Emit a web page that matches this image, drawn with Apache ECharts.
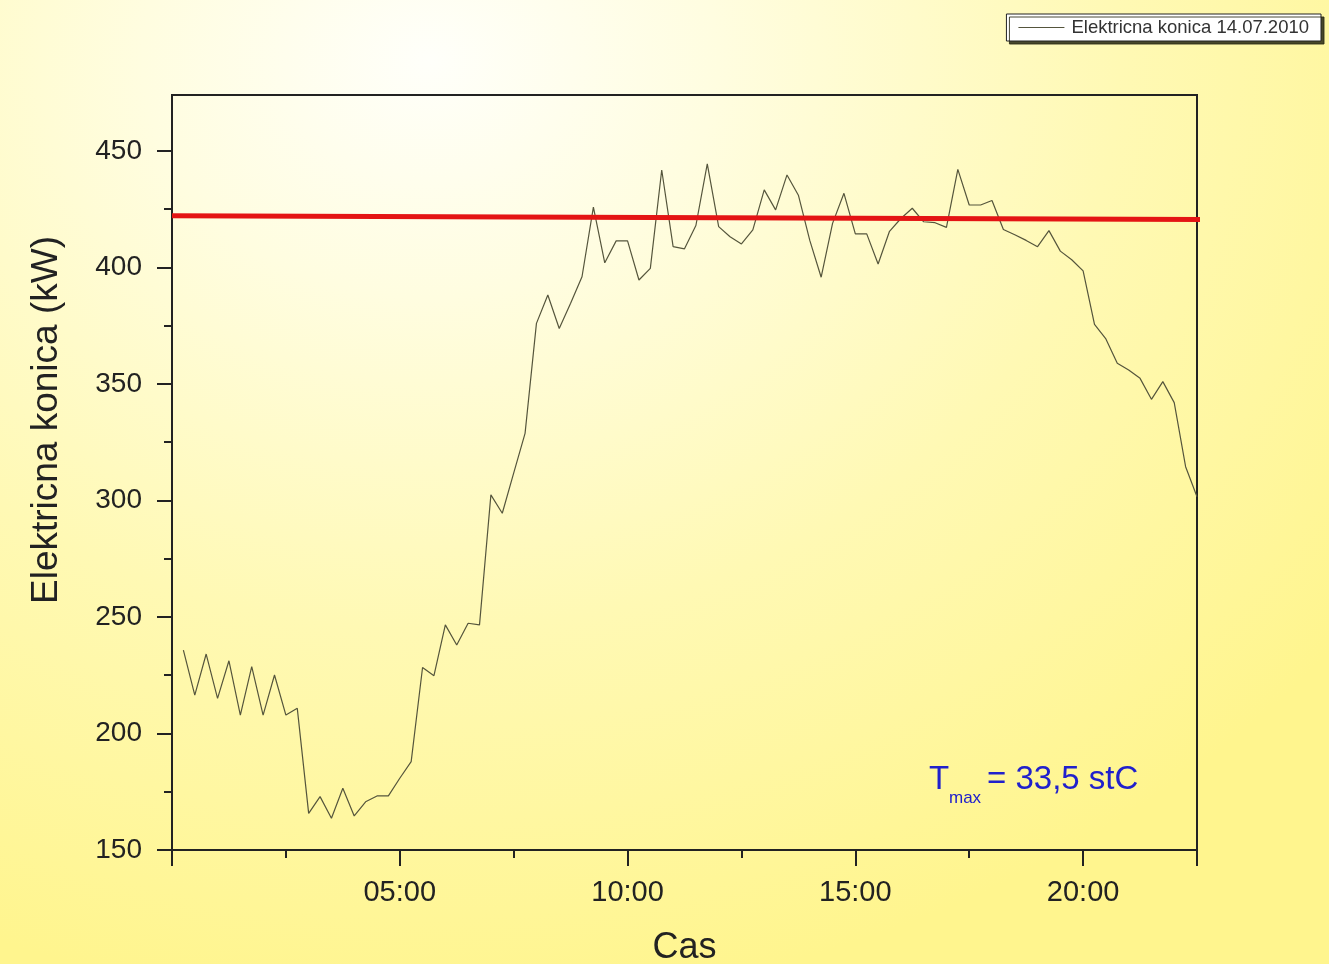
<!DOCTYPE html>
<html><head><meta charset="utf-8">
<script src="https://cdn.jsdelivr.net/npm/echarts@6/dist/echarts.min.js"></script>
<style>
html,body{margin:0;padding:0;width:1329px;height:964px;overflow:hidden;}
body{background: radial-gradient(ellipse 1150px 950px at 430px 60px, #fffffa 0%, #fffde0 25%, #fff9b4 60%, #fff58e 100%);}
#c{width:1329px;height:964px;}
</style></head><body><div id="c"></div>
<script>
const times = ["00:15","00:30","00:45","01:00","01:15","01:30","01:45","02:00","02:15","02:30",
"02:45","03:00","03:15","03:30","03:45","04:00","04:15","04:30","04:45","05:00",
"05:15","05:30","05:45","06:00","06:15","06:30","06:45","07:00","07:15","07:30",
"07:45","08:00","08:15","08:30","08:45","09:00","09:15","09:30","09:45","10:00",
"10:15","10:30","10:45","11:00","11:15","11:30","11:45","12:00","12:15","12:30",
"12:45","13:00","13:15","13:30","13:45","14:00","14:15","14:30","14:45","15:00",
"15:15","15:30","15:45","16:00","16:15","16:30","16:45","17:00","17:15","17:30",
"17:45","18:00","18:15","18:30","18:45","19:00","19:15","19:30","19:45","20:00",
"20:15","20:30","20:45","21:00","21:15","21:30","21:45","22:00","22:15","22:30"];
const power = [235.8,216.5,234.1,215.1,231.2,207.9,228.7,207.9,225.1,207.9,
210.8,165.7,172.9,163.6,176.5,164.6,170.7,173.2,173.2,180.8,
187.9,228.3,224.8,246.6,238.0,247.3,246.6,302.4,294.5,311.7,
328.8,376.0,388.2,373.8,384.6,396.0,425.9,402.0,411.4,411.4,
394.6,399.6,441.8,408.9,408.0,418.0,444.4,417.5,413.2,410.1,
416.1,433.3,424.7,439.7,431.0,411.6,395.8,418.9,431.8,414.4,
414.4,401.5,415.5,421.0,425.4,419.6,419.2,417.2,442.1,426.8,
426.8,428.7,416.3,414.0,411.6,408.9,415.8,407.0,403.3,398.5,
375.6,369.3,358.9,356.0,352.4,343.4,351.0,342.0,314.5,301.6];
const trendTimes = ["00:00","22:41"];
const trendPower = [422.2, 420.6];
const yMajorTicks = [150,200,250,300,350,400,450];
const yMinorTicks = [175,225,275,325,375,425];
const xLabelHours = [5,10,15,20];
const xMajorHours = [0,5,10,15,20,22.5];
const xMinorHours = [2.5,7.5,12.5,17.5];
const seriesName = "Elektricna konica 14.07.2010";

function toH(s){ const p = s.split(':'); return Number(p[0]) + Number(p[1]) / 60; }
function fmtH(v){ const h = Math.floor(v), m = Math.round((v - h) * 60); return String(h).padStart(2,'0') + ':' + String(m).padStart(2,'0'); }

const chart = echarts.init(document.getElementById('c'), null, {renderer:'canvas'});
const FONT = "'Liberation Sans', Arial, sans-serif";
const X_MIN = 0, X_MAX = 22.5, Y_MIN = 150, Y_MAX = 474;
const BLUE = '#2020cc';

chart.setOption({
  backgroundColor: 'transparent',
  animation: false,
  grid: {left:172, right:132, top:95, bottom:114, show:true, borderColor:'#222', borderWidth:2, backgroundColor:'transparent', containLabel:false, outerBoundsMode:'none'},
  legend: {
    data:[seriesName], right:8, top:14, orient:'horizontal', icon:'rect',
    backgroundColor:'#ffffff', borderColor:'#222', borderWidth:1,
    shadowColor:'rgba(40,40,20,0.85)', shadowOffsetX:3, shadowOffsetY:3, shadowBlur:0,
    padding:[4,12,4,12], itemWidth:46, itemHeight:1.2, itemGap:6,
    textStyle:{fontFamily:FONT, fontSize:18.5, color:'#333', padding:[0,0,0,2]}
  },
  xAxis: [
    {type:'value', min:X_MIN, max:X_MAX, position:'bottom', splitLine:{show:false},
     axisLine:{show:true, onZero:false, lineStyle:{color:'#222', width:2}},
     axisTick:{show:true, length:16, customValues:xMajorHours, lineStyle:{color:'#222', width:2}},
     axisLabel:{customValues:xLabelHours, formatter:fmtH, margin:28, fontFamily:FONT, fontSize:29, color:'#222'},
     name:'Cas', nameLocation:'middle', nameGap:80, nameTextStyle:{fontFamily:FONT, fontSize:36, color:'#222'}},
    {type:'value', min:X_MIN, max:X_MAX, position:'bottom', splitLine:{show:false},
     axisLine:{show:false, onZero:false},
     axisTick:{show:true, length:8, customValues:xMinorHours, lineStyle:{color:'#222', width:2}},
     axisLabel:{show:false}}
  ],
  yAxis: [
    {type:'value', min:Y_MIN, max:Y_MAX, position:'left', splitLine:{show:false},
     axisLine:{show:true, onZero:false, lineStyle:{color:'#222', width:2}},
     axisTick:{show:true, length:15, customValues:yMajorTicks, lineStyle:{color:'#222', width:2}},
     axisLabel:{customValues:yMajorTicks, margin:30, fontFamily:FONT, fontSize:28, color:'#222'}},
    {type:'value', min:Y_MIN, max:Y_MAX, position:'left', splitLine:{show:false},
     axisLine:{show:false, onZero:false},
     axisTick:{show:true, length:8, customValues:yMinorTicks, lineStyle:{color:'#222', width:2}},
     axisLabel:{show:false}}
  ],
  graphic: [
    {type:'text', x:47, y:420, rotation:Math.PI/2, style:{text:'Elektricna konica (kW)', fontFamily:FONT, fontSize:37, fill:'#222', align:'center', verticalAlign:'middle'}},
    {type:'text', x:929, y:780, style:{text:'T', fontFamily:FONT, fontSize:33, fill:BLUE, align:'left', verticalAlign:'middle'}},
    {type:'text', x:949, y:798, style:{text:'max', fontFamily:FONT, fontSize:17, fill:BLUE, align:'left', verticalAlign:'middle'}},
    {type:'text', x:987, y:780, style:{text:'= 33,5 stC', fontFamily:FONT, fontSize:33, fill:BLUE, align:'left', verticalAlign:'middle'}}
  ],
  series: [
    {name:seriesName, type:'line', xAxisIndex:0, yAxisIndex:0, symbol:'none', showSymbol:false,
     lineStyle:{color:'#55553c', width:1.2}, itemStyle:{color:'#55553c'},
     data: times.map((t,i)=>[toH(t), power[i]])},
    {name:'trend', type:'line', xAxisIndex:0, yAxisIndex:0, symbol:'none', showSymbol:false, clip:false,
     lineStyle:{color:'#e41414', width:5}, itemStyle:{color:'#e41414'}, z:3,
     data: trendTimes.map((t,i)=>[toH(t), trendPower[i]])}
  ]
});
</script></body></html>
